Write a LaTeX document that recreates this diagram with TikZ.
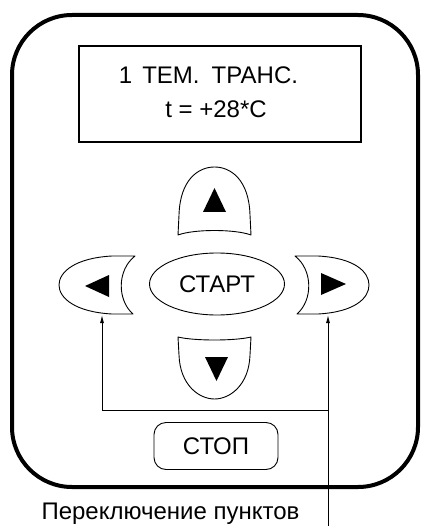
\documentclass[tikz,border=0pt]{standalone}
\usepackage{fontspec}
\setmainfont{Liberation Sans}
\usetikzlibrary{shapes.geometric,arrows.meta}
\begin{document}
\begin{tikzpicture}[x=1pt,y=-1pt,
        btn/.style={draw,line width=0.9pt,line join=round},
        lbl/.style={font=\fontsize{24}{28}\selectfont},
        arr/.style={line width=0.9pt,-{Latex[length=8pt,width=4pt]}}]
        \useasboundingbox (0,0) rectangle (422,526);

        % draw the case and the screen
        \draw[line width=4pt,rounded corners=60pt] (12,15) rectangle (418,487);
        \node[draw,line width=1.5pt,minimum width=282pt,minimum height=96pt] (screen) at (220,94) {};
        \node[lbl] (line1) at (208.5,75) {1\hspace{10pt}ТЕМ.\hspace{12pt}ТРАНС.};
        \node[lbl] (line2) at (216,109) {t = +28*C};

        % the arrow keys
        \draw[btn] (178,235) -- (179,215) .. controls (180,180) and (198,167) .. (214.5,167)
              .. controls (231,167) and (249,180) .. (250,215) -- (251,235)
              .. controls (235,229) and (194,229) .. (178,235) -- cycle;
        \draw[btn] (178,337) .. controls (194,341) and (235,341) .. (251,337) -- (250,355)
              .. controls (249,385) and (230,399) .. (214.5,399)
              .. controls (199,399) and (180,385) .. (179,355) -- cycle;
        \draw[btn] (135,256) -- (112,256) .. controls (75,258) and (59,272) .. (59,285)
              .. controls (59,298) and (75,312) .. (112,314) -- (133,314)
              .. controls (117,300) and (117,270) .. (135,256) -- cycle;
        \draw[btn] (295,256) -- (318,256) .. controls (355,258) and (369,272) .. (369,285)
              .. controls (369,298) and (355,312) .. (318,314) -- (297,314)
              .. controls (313,300) and (313,270) .. (295,256) -- cycle;

        % the triangles on the keys
        \fill (203,212) -- (226,212) -- (214.5,188) -- cycle;
        \fill (205,357) -- (228,357) -- (216.5,381) -- cycle;
        \fill (109,275) -- (109,297) -- (85,286) -- cycle;
        \fill (321,273) -- (321,295) -- (346,284) -- cycle;

        % start and stop keys
        \node[btn,ellipse,lbl,minimum width=135pt,minimum height=62pt] (start) at (217,284) {СТАРТ};
        \node[btn,lbl,rounded corners=12pt,minimum width=124pt,minimum height=47pt] (stop) at (216,446) {СТОП};

        % the arrows to the side keys
        \coordinate (lkey) at (102,315);
        \coordinate (rkey) at (328,315);
        \coordinate (fork) at (328,410);
        \coordinate (feed) at (328,526);
        \draw[arr] (feed) -- (rkey);
        \draw[arr] (fork) -| (lkey);
        \node[lbl,anchor=base west] (hint) at (38,519) {Переключение пунктов};
\end{tikzpicture}
\end{document}
